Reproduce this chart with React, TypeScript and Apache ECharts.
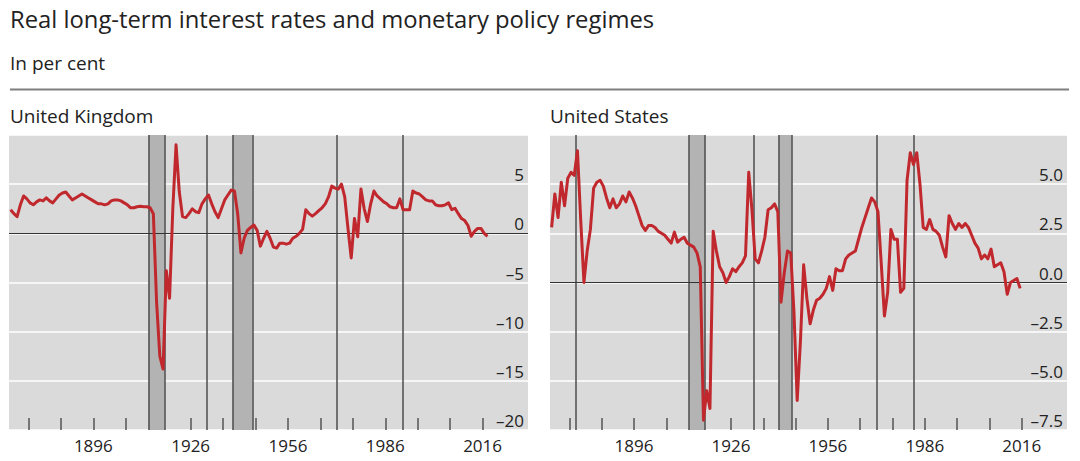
import React, { useEffect, useRef } from "react";
import * as echarts from "echarts";

// Annual observations, plotted at mid-year
const ukYears: number[] = [];
for (let y = 1870; y <= 2017; y++) ukYears.push(y);
const ukValues = [
  2.4, 2.0, 1.7, 2.9, 3.8, 3.5, 3.1, 2.9, 3.2, 3.4,
  3.3, 3.6, 3.3, 3.1, 3.5, 3.9, 4.1, 4.2, 3.8, 3.4,
  3.6, 3.8, 4.0, 3.8, 3.6, 3.4, 3.2, 3.0, 3.0, 2.9,
  3.0, 3.3, 3.4, 3.4, 3.3, 3.1, 2.9, 2.6, 2.6, 2.7,
  2.75, 2.7, 2.7, 2.6, 2.0, -7.0, -12.5, -13.8, -3.8, -6.6,
  2.5, 9.0, 4.2, 1.7, 1.6, 2.0, 2.5, 2.2, 2.1, 3.0,
  3.5, 3.9, 3.0, 2.2, 1.6, 2.5, 3.4, 3.9, 4.4, 4.3,
  2.0, -2.0, -0.5, 0.3, 0.6, 0.85, 0.3, -1.3, -0.5, 0.2,
  -0.5, -1.4, -1.5, -1.0, -1.0, -1.1, -1.0, -0.5, -0.3, 0.0,
  0.4, 2.4, 2.0, 1.75, 2.0, 2.3, 2.6, 3.0, 3.7, 4.8,
  4.6, 4.5, 5.0, 3.7, 0.5, -2.5, 1.5, -0.35, 4.5, 2.5,
  1.2, 3.0, 4.3, 3.8, 3.5, 3.2, 3.0, 2.7, 2.6, 2.6,
  3.5, 2.4, 2.4, 2.4, 4.3, 4.1, 4.0, 3.7, 3.4, 3.3,
  3.3, 2.9, 2.8, 2.8, 2.9, 3.1, 2.4, 2.55, 2.0, 1.5,
  1.3, 0.8, -0.3, 0.2, 0.5, 0.5, 0.0, -0.3,
];

const usYears: number[] = [];
for (let y = 1870; y <= 2015; y++) usYears.push(y);
const usValues = [
  2.8, 4.5, 3.3, 5.1, 3.9, 5.3, 5.6, 5.45, 6.7, 3.2,
  0.0, 1.6, 2.7, 4.8, 5.1, 5.2, 4.9, 4.3, 3.8, 4.25,
  3.8, 4.0, 4.4, 4.1, 4.6, 4.3, 3.9, 3.4, 2.9, 2.65,
  2.9, 2.9, 2.8, 2.6, 2.5, 2.4, 2.2, 2.0, 2.56, 2.05,
  2.2, 2.3, 2.0, 1.9, 1.8, 1.5, 0.8, -7.0, -5.5, -6.4,
  2.6, 1.6, 0.8, 0.5, 0.0, 0.3, 0.7, 0.55, 0.8, 1.0,
  1.35, 5.6, 3.7, 1.2, 1.0, 1.6, 2.3, 3.7, 3.8, 4.0,
  3.6, -1.0, 0.5, 1.6, 1.5, -1.5, -6.0, -3.0, 0.9, -0.8,
  -2.1, -1.4, -0.9, -0.8, -0.6, -0.3, 0.3, -0.4, 0.7, 0.6,
  0.6, 1.2, 1.4, 1.5, 1.6, 2.2, 2.8, 3.3, 3.8, 4.3,
  4.1, 3.6, 1.0, -1.7, -0.5, 2.7, 2.2, 2.2, -0.5, -0.3,
  5.2, 6.6, 6.0, 6.6, 5.0, 2.8, 2.7, 3.2, 2.7, 2.6,
  2.4, 1.8, 1.3, 3.4, 3.0, 2.7, 3.0, 2.8, 3.0, 2.8,
  2.4, 2.0, 1.75, 1.2, 1.4, 1.2, 1.7, 0.8, 0.9, 1.0,
  0.55, -0.6, 0.0, 0.1, 0.2, -0.3,
];

const ukBands: [number, number][] = [[1913, 1918], [1939, 1945]];
const ukRegimeLines = [1913, 1918, 1931, 1939, 1945, 1971, 1991.3];
const usBands: [number, number][] = [[1913, 1918], [1940.8, 1944.8]];
const usRegimeLines = [1878, 1913, 1918, 1933, 1940.8, 1944.8, 1971, 1982.7];

const tickYears = [1876, 1886, 1896, 1906, 1916, 1926, 1936, 1946, 1956, 1966, 1976, 1986, 1996, 2006, 2016];
const labelYears = [1896, 1926, 1956, 1986, 2016];

const FONT = "'Open Sans', 'Noto Sans', sans-serif";
const RED = "#c0282d";

function xAxisFor(gridIndex: number) {
  return {
    type: "value",
    gridIndex,
    min: 1870,
    max: 2030,
    splitLine: { show: false },
    axisLine: { show: false, onZero: false },
    axisTick: {
      show: true,
      inside: true,
      length: 12,
      customValues: tickYears,
      lineStyle: { color: "#555", width: 1.5 },
    },
    axisLabel: {
      customValues: labelYears,
      formatter: (v: number) => String(v),
      fontFamily: FONT,
      fontSize: 17,
      color: "#222",
      margin: 7,
    },
  };
}

function yAxisFor(gridIndex: number, min: number, max: number, interval: number, decimals: number) {
  return {
    type: "value",
    gridIndex,
    position: "right",
    min,
    max,
    interval,
    axisLine: { show: false },
    axisTick: { show: false },
    splitLine: { show: true, lineStyle: { color: "#ffffff", width: 1.5 } },
    axisLabel: {
      inside: true,
      showMaxLabel: false,
      verticalAlign: "bottom",
      margin: 4,
      padding: [0, 0, 1, 0],
      fontFamily: FONT,
      fontSize: 17,
      color: "#222",
      formatter: (v: number) => {
        const s = Math.abs(v).toFixed(decimals);
        return v < 0 ? "\u2013" + s : s;
      },
    },
  };
}

function regimeSeries(idx: number, bands: [number, number][], lines: number[]) {
  return {
    type: "line",
    xAxisIndex: idx,
    yAxisIndex: idx,
    data: [],
    z: 1,
    silent: true,
    markArea: {
      silent: true,
      itemStyle: { color: "#b3b3b3" },
      data: bands.map(([a, b]) => [{ xAxis: a }, { xAxis: b }]),
    },
    markLine: {
      silent: true,
      symbol: ["none", "none"],
      label: { show: false },
      data: [
        ...lines.map((x) => ({ xAxis: x, lineStyle: { color: "#4d4d4d", width: 1.5, type: "solid" } })),
        { yAxis: 0, lineStyle: { color: "#333", width: 1, type: "solid" } },
      ],
    },
  };
}

function titleText(text: string, left: number, top: number, fontSize: number) {
  return {
    text,
    left,
    top,
    padding: 0,
    textStyle: { fontFamily: FONT, fontSize, fontWeight: "normal", color: "#222" },
  };
}

export default function App() {
  const ref = useRef<HTMLDivElement>(null);
  useEffect(() => {
    if (!ref.current) return;
    const chart = echarts.init(ref.current, null, { renderer: "svg" });
    const ukData = ukYears.map((y, i) => [y + 0.5, ukValues[i]]);
    const usData = usYears.map((y, i) => [y + 0.5, usValues[i]]);
    chart.setOption({
      animation: false,
      backgroundColor: "#ffffff",
      title: [
        titleText("Real long-term interest rates and monetary policy regimes", 10, 7, 23.8),
        titleText("In per cent", 10, 53, 19),
        titleText("United Kingdom", 10, 106, 19),
        titleText("United States", 550, 106, 19),
      ],
      graphic: [
        {
          type: "line",
          shape: { x1: 10, y1: 89.5, x2: 1069, y2: 89.5 },
          style: { stroke: "#7f7f7f", lineWidth: 2 },
        },
      ],
      grid: [
        { left: 9, top: 135, width: 519, height: 295, show: true, backgroundColor: "#dadada", borderWidth: 0 },
        { left: 550, top: 135, width: 517, height: 295, show: true, backgroundColor: "#dadada", borderWidth: 0 },
      ],
      xAxis: [xAxisFor(0), xAxisFor(1)],
      yAxis: [yAxisFor(0, -20, 10, 5, 0), yAxisFor(1, -7.5, 7.5, 2.5, 1)],
      series: [
        regimeSeries(0, ukBands, ukRegimeLines),
        regimeSeries(1, usBands, usRegimeLines),
        {
          type: "line",
          xAxisIndex: 0,
          yAxisIndex: 0,
          data: ukData,
          symbol: "none",
          z: 5,
          lineStyle: { color: RED, width: 3, join: "round" },
        },
        {
          type: "line",
          xAxisIndex: 1,
          yAxisIndex: 1,
          data: usData,
          symbol: "none",
          z: 5,
          lineStyle: { color: RED, width: 3, join: "round" },
        },
      ],
    });
    return () => chart.dispose();
  }, []);
  return (
    <div
      ref={ref}
      style={{ position: "absolute", left: 0, top: 0, width: 1080, height: 461 }}
    />
  );
}
